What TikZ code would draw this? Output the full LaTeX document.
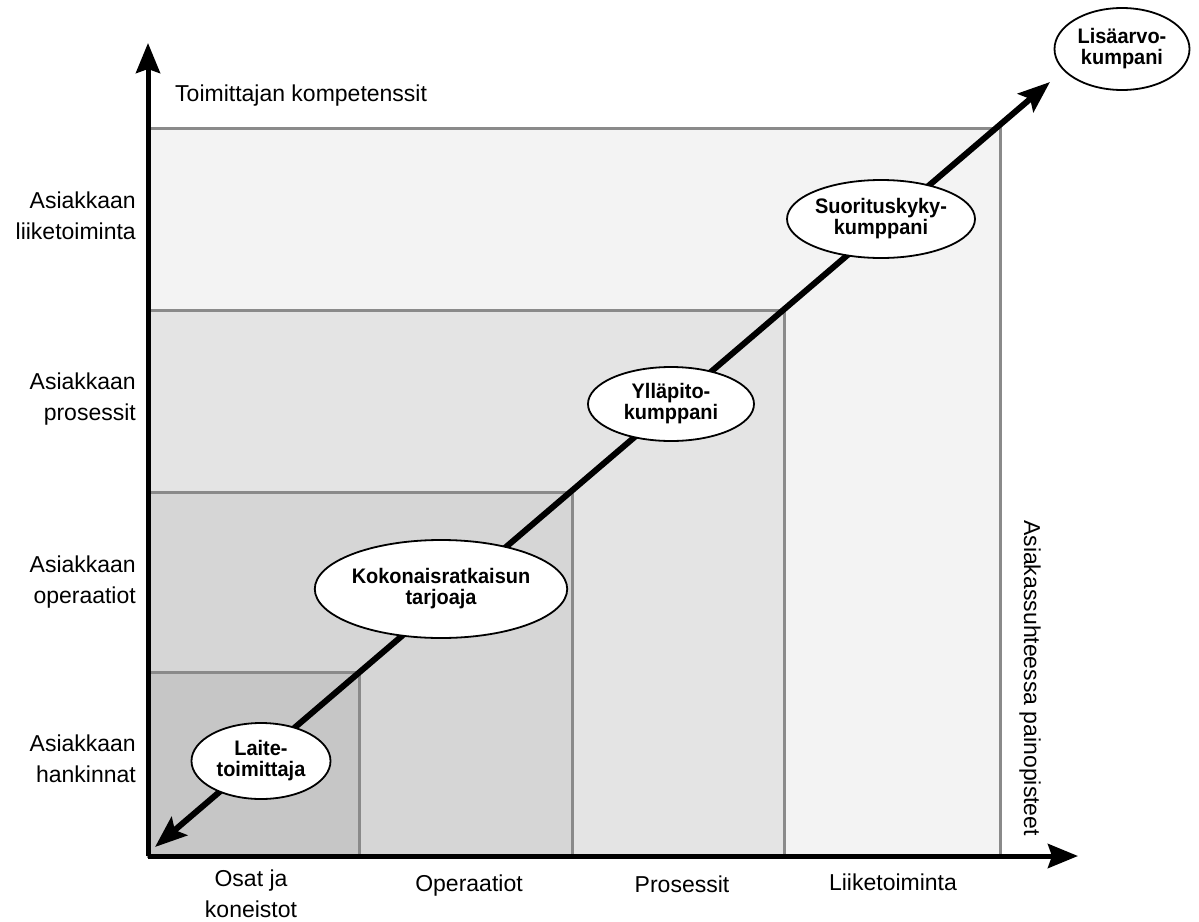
\documentclass[tikz,border=0pt]{standalone}
\usepackage{fontspec}
\setmainfont{Liberation Sans}
\newfontfamily\ellfont[FakeStretch=0.95]{Liberation Sans}
\usetikzlibrary{arrows.meta,shapes.geometric}
\definecolor{cA}{HTML}{F3F3F3}
\definecolor{cB}{HTML}{E4E4E4}
\definecolor{cC}{HTML}{D6D6D6}
\definecolor{cD}{HTML}{C6C6C6}
\definecolor{edgegray}{HTML}{8A8A8A}
\begin{document}
\begin{tikzpicture}[x=1pt,y=-1pt,
  zone/.style={fill=#1, draw=edgegray, line width=3pt},
  axisline/.style={line width=5pt, -{Stealth[length=30pt,width=24pt,inset=4pt]}},
  diag/.style={line width=6pt, {Stealth[length=32pt,width=24pt,inset=6pt]}-{Stealth[length=32pt,width=24pt,inset=6pt]}},
  lbl/.style={font=\fontsize{23}{31}\selectfont, inner sep=0pt},
  role/.style={ellipse, draw=black, line width=1.8pt, fill=white, inner sep=0pt, align=center,
    font=\ellfont\bfseries\fontsize{21}{21}\selectfont}
]
\useasboundingbox (0,0) rectangle (1199,921);
\fill[white] (0,0) rectangle (1199,921);

% zones
\draw[zone=cA] (148,128) rectangle (1000,856);
\draw[zone=cB] (148,310) rectangle (784,856);
\draw[zone=cC] (148,492) rectangle (572,856);
\draw[zone=cD] (148,672) rectangle (359,856);

% axes
\coordinate (origin) at (148,856);
\coordinate (ytip) at (148,43);
\coordinate (xtip) at (1078,856);
\draw[axisline] (origin) -- (ytip);
\draw[axisline] (origin) -- (xtip);

% diagonal
\coordinate (dlow) at (155,847);
\coordinate (dhigh) at (1050,82);
\draw[diag] (dlow) -- (dhigh);

% ellipses
\node[role, minimum width=139pt, minimum height=76pt] (laite) at (261,761) {Laite-\\toimittaja};
\node[role, minimum width=252pt, minimum height=98pt] (koko) at (441,589) {Kokonaisratkaisun\\tarjoaja};
\node[role, minimum width=166pt, minimum height=74pt] (yllapito) at (671,404) {Ylläpito-\\kumppani};
\node[role, minimum width=188pt, minimum height=78pt] (suoritus) at (881,219) {Suorituskyky-\\kumppani};
\node[role, minimum width=135pt, minimum height=82pt] (lisa) at (1122,49) {Lisäarvo-\\kumpani};

% labels
\node[lbl, anchor=base west] (tk) at (175,101) {Toimittajan kompetenssit};
\node[lbl, anchor=base east, align=right] (l1) at (136,239) {Asiakkaan\\liiketoiminta};
\node[lbl, anchor=base east, align=right] (l2) at (136,420) {Asiakkaan\\prosessit};
\node[lbl, anchor=base east, align=right] (l3) at (136,603) {Asiakkaan\\operaatiot};
\node[lbl, anchor=base east, align=right] (l4) at (136,782) {Asiakkaan\\hankinnat};

\node[lbl, anchor=base, align=center] (b1) at (251,917) {Osat ja\\koneistot};
\node[lbl, anchor=base] (b2) at (469,891) {Operaatiot};
\node[lbl, anchor=base] (b3) at (682,892) {Prosessit};
\node[lbl, anchor=base] (b4) at (893,890) {Liiketoiminta};

\node[lbl, rotate=-90, anchor=west] (side) at (1030,520) {Asiakassuhteessa painopisteet};
\end{tikzpicture}
\end{document}
